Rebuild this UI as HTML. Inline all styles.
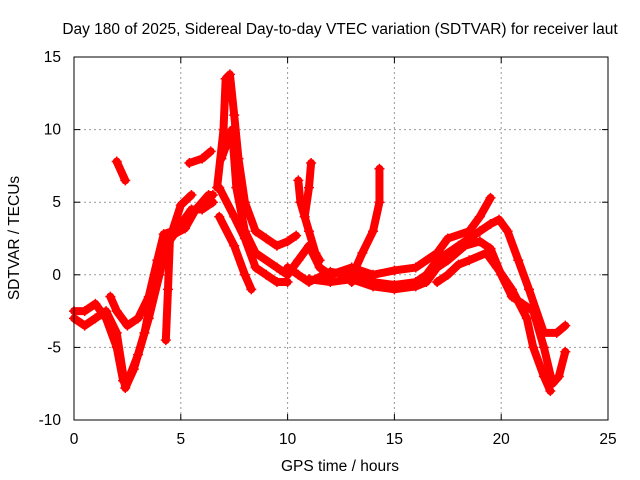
<!DOCTYPE html>
<html><head><meta charset="utf-8"><style>
body{margin:0;background:#fff}
svg{display:block;font-family:"Liberation Sans",sans-serif;font-size:15.5px}
</style></head><body>
<svg id="c" width="640" height="480">
<text x="340" y="34" text-anchor="middle">Day 180 of 2025, Sidereal Day-to-day VTEC variation (SDTVAR) for receiver laut</text>
<text x="340" y="471" text-anchor="middle">GPS time / hours</text>
<text transform="translate(19,238) rotate(-90)" text-anchor="middle">SDTVAR / TECUs</text>
<g id="grid"></g><g id="ticks"></g><g id="series"></g>
<rect x="74" y="57" width="534" height="363" fill="none" stroke="#000" stroke-width="1"/>
</svg>
<script>
const xTicks=[0,5,10,15,20,25];
const yTicks=[-10,-5,0,5,10,15];
const trackA=[[0,-2.5],[0.5,-2.5],[1,-2],[1.5,-3],[2,-5],[2.3,-7.3],[2.6,-7],[3,-5.5],[3.5,-3],[4,0],[4.3,2],[4.7,2.8],[5.2,3.2],[5.7,4.5],[6.3,5.5],[6.5,5.5]];
const trackB=[[0,-3],[0.5,-3.5],[1,-3],[1.5,-2.5],[2,-4],[2.4,-7.8],[2.8,-6.5],[3.3,-4],[3.7,-1],[4.1,1.5],[4.5,2.5],[5,3.5],[5.5,4.5],[6,4.5],[6.5,5]];
const trackC=[[1.7,-1.5],[2,-2.5],[2.5,-3.5],[3,-3],[3.5,-1.5],[3.9,1],[4.2,2.8],[4.6,3],[5,4.8],[5.5,5.5]];
const trackD=[[4.5,2.8],[4.4,-1],[4.3,-4.5]];
const trackE=[[2,7.8],[2.4,6.5]];
const trackF=[[5.4,7.7],[6,8],[6.4,8.5]];
const trackG=[[6.7,6],[7,10],[7.1,13.5],[7.3,13.8],[7.5,11],[7.7,8],[8,5],[8.5,3],[9,2.5],[9.5,2],[10,2.3],[10.4,2.7]];
const trackH=[[6.9,8],[7.4,10],[7.6,6],[8,3],[8.5,1.5],[9.5,0.5],[10,0]];
const trackI=[[6.8,4],[7.5,2],[8,0],[8.3,-1]];
const trackJ=[[6.8,6],[7.5,4],[8,2.5],[8.5,0.5],[9,0],[9.5,-0.5],[10,-0.5]];
const trackK=[[10,0],[10.5,1],[11,2],[11.5,0.5],[12,0],[13,0.5],[14,0],[15,0.3],[16,0.5],[17,1.5],[17.5,2.5],[18.5,3],[19,4],[19.5,5.3]];
const trackL=[[10,0.5],[10.5,0],[11,-0.5],[12,0.2],[13,0],[14,-0.5],[15,-0.7],[16,-0.5],[16.5,0],[17,1],[18,2],[19,3],[19.5,3.5],[19.9,3.8],[20.3,3],[20.8,1],[21.3,-1],[22,-4],[22.6,-4],[23,-3.5]];
const trackM=[[11,-0.3],[12,-0.5],[13,-0.3],[14,-0.8],[15,-1],[16,-0.8],[16.5,-0.5],[17,0.5],[17.5,1],[18.3,2],[19,2.3],[19.5,1.8],[20,0],[20.5,-1.5],[21,-2],[21.5,-2.5],[22,-5],[22.4,-7.5],[22.7,-7],[23,-5.3]];
const trackN=[[17,-0.5],[17.5,0],[18,0.7],[18.5,1],[19.3,1.5],[19.8,0.5],[20.5,-1],[21.2,-3],[21.5,-5],[22,-7],[22.3,-8]];
const trackP=[[10.5,6.5],[10.6,5],[11,3],[11.3,1.5],[11.5,1]];
const trackQ=[[11.1,7.7],[11,6],[10.8,4]];
const trackR=[[14.3,7.3],[14.3,5],[14,3],[13.5,1.5],[13.2,0.5],[13,-0.5]];
const tracks=[trackA,trackB,trackC,trackD,trackE,trackF,trackG,trackH,trackI,trackJ,trackK,trackL,trackM,trackN,trackP,trackQ,trackR];
const X=v=>74+v*534/25, Y=v=>420-(v+10)*363/25;
const NS='http://www.w3.org/2000/svg';
const grid=document.getElementById('grid'),tk=document.getElementById('ticks'),sr=document.getElementById('series');
function mk(tag,attrs,parent){const e=document.createElementNS(NS,tag);for(const k in attrs)e.setAttribute(k,attrs[k]);parent.appendChild(e);return e;}
xTicks.forEach(t=>{
  if(t>0&&t<25){const g=mk('line',{x1:X(t),x2:X(t),y1:57,y2:420,stroke:'#999','stroke-dasharray':'2,3'},grid);
  
  
  mk('line',{x1:X(t),x2:X(t),y1:414,y2:420,stroke:'#000'},tk);mk('line',{x1:X(t),x2:X(t),y1:57,y2:63,stroke:'#000'},tk);}
  const l=mk('text',{x:X(t),y:444,'text-anchor':'middle'},tk);l.textContent=t;
  
  
});
yTicks.forEach(t=>{
  if(t>-10&&t<15){const g=mk('line',{x1:74,x2:608,y1:Y(t),y2:Y(t),stroke:'#999','stroke-dasharray':'2,3'},grid);
  
  
  mk('line',{x1:74,x2:80,y1:Y(t),y2:Y(t),stroke:'#000'},tk);mk('line',{x1:602,x2:608,y1:Y(t),y2:Y(t),stroke:'#000'},tk);}
  const l=mk('text',{x:61,y:Y(t)+5,'text-anchor':'end'},tk);l.textContent=t;
  
  
});
tracks.forEach((tr,i)=>{
  const p=mk('polyline',{points:tr.map(d=>X(d[0])+','+Y(d[1])).join(' '),fill:'none',stroke:'#f00','stroke-width':8,'stroke-linejoin':'round','stroke-linecap':'round'},sr);
  
  
  tr.forEach(d=>{const m=mk('path',{d:`M${X(d[0])-5},${Y(d[1])}h10M${X(d[0])},${Y(d[1])-5}v10`,stroke:'#f00','stroke-width':1.5},sr);
    
    });
});
</script>
</body></html>
